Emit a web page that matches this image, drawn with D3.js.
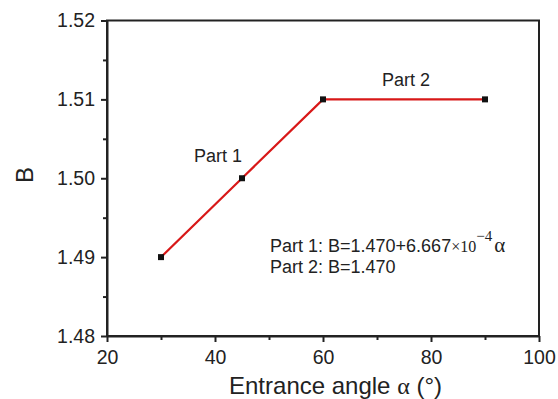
<!doctype html>
<html lang="en">
  <head>
    <meta charset="UTF-8" />
    <title>B vs entrance angle</title>
    <script src="https://d3js.org/d3.v7.min.js"></script>
    <style>
      body {
        margin: 0;
        background: #fff;
        font-family: 'Liberation Sans', Arial, sans-serif;
      }
      .axis .tick text {
        font-size: 19.5px;
        fill: #222;
      }
      .axis path,
      .axis line {
        stroke: #222;
        stroke-width: 2;
      }
      .axis-title {
        font-size: 24px;
        fill: #222;
      }
      .note {
        font-size: 18px;
        fill: #222;
      }
      .serif {
        font-family: 'Liberation Serif', 'Times New Roman', serif;
      }
    </style>
  </head>
  <body>
    <svg id="chart"></svg>
    <script>
      // data
      const angles = [30, 45, 60, 90]
      const bValues = [1.49, 1.5, 1.51, 1.51]
      const xTicks = [20, 40, 60, 80, 100]
      const yTicks = [1.48, 1.49, 1.5, 1.51, 1.52]
      const xMinor = [30, 50, 70, 90]
      const yMinor = [1.485, 1.495, 1.505, 1.515]

      const W = 558,
        H = 399
      const margin = { top: 20.5, right: 19, bottom: 63, left: 107 }
      const width = W - margin.left - margin.right
      const height = H - margin.top - margin.bottom

      const svg = d3.select('#chart').attr('width', W).attr('height', H)
      const g = svg.append('g').attr('transform', `translate(${margin.left},${margin.top})`)

      const x = d3.scaleLinear().domain([20, 100]).range([0, width])
      const y = d3.scaleLinear().domain([1.48, 1.52]).range([height, 0])

      // frame
      g.append('rect')
        .attr('width', width)
        .attr('height', height)
        .attr('fill', 'none')
        .attr('stroke', '#222')
        .attr('stroke-width', 2)

      // minor ticks
      g.append('g')
        .attr('class', 'axis')
        .attr('transform', `translate(0,${height})`)
        .call(d3.axisBottom(x).tickValues(xMinor).tickSize(4).tickFormat(''))
        .select('.domain')
        .remove()
      g.append('g')
        .attr('class', 'axis')
        .call(d3.axisLeft(y).tickValues(yMinor).tickSize(4).tickFormat(''))
        .select('.domain')
        .remove()

      // major axes
      g.append('g')
        .attr('class', 'axis')
        .attr('transform', `translate(0,${height})`)
        .call(d3.axisBottom(x).tickValues(xTicks).tickSize(6).tickSizeOuter(0).tickPadding(8))
      g.append('g')
        .attr('class', 'axis')
        .call(
          d3
            .axisLeft(y)
            .tickValues(yTicks)
            .tickSize(6)
            .tickSizeOuter(0)
            .tickPadding(6)
            .tickFormat(d3.format('.2f'))
        )

      // axis titles
      const xt = svg
        .append('text')
        .attr('class', 'axis-title')
        .attr('text-anchor', 'middle')
        .attr('x', 335.5)
        .attr('y', 394)
      xt.append('tspan').text('Entrance angle ')
      xt.append('tspan').attr('class', 'serif').text('α')
      xt.append('tspan').text(' (°)')

      svg
        .append('text')
        .attr('class', 'axis-title')
        .attr('text-anchor', 'middle')
        .attr('transform', 'rotate(-90)')
        .attr('x', -175)
        .attr('y', 33)
        .text('B')

      // line and markers
      const pts = angles.map((a, i) => [a, bValues[i]])
      g.append('path')
        .datum(pts)
        .attr('fill', 'none')
        .attr('stroke', '#d81818')
        .attr('stroke-width', 2.2)
        .attr('d', d3.line().x((d) => x(d[0])).y((d) => y(d[1])))

      g.selectAll('.pt')
        .data(pts)
        .enter()
        .append('rect')
        .attr('class', 'pt')
        .attr('x', (d) => x(d[0]) - 3)
        .attr('y', (d) => y(d[1]) - 3)
        .attr('width', 6)
        .attr('height', 6)
        .attr('fill', '#111')

      // part labels
      g.append('text')
        .attr('class', 'note')
        .attr('text-anchor', 'end')
        .attr('x', x(45))
        .attr('y', y(1.5) - 16)
        .text('Part 1')
      g.append('text')
        .attr('class', 'note')
        .attr('text-anchor', 'middle')
        .attr('x', x(75) + 2)
        .attr('y', y(1.51) - 13)
        .text('Part 2')

      // equations
      const eq = svg.append('text').attr('class', 'note').attr('x', 270).attr('y', 252)
      eq.append('tspan').text('Part 1: B=1.470+6.667')
      eq.append('tspan').attr('class', 'serif').style('font-size', '16px').text('×10')
      eq.append('tspan').attr('class', 'serif').style('font-size', '15px').attr('dy', -11).text('−4')
      eq.append('tspan').attr('class', 'serif').style('font-size', '21px').attr('dx', 2).attr('dy', 11).text('α')
      svg.append('text').attr('class', 'note').attr('x', 270).attr('y', 273).text('Part 2: B=1.470')
    </script>
  </body>
</html>
